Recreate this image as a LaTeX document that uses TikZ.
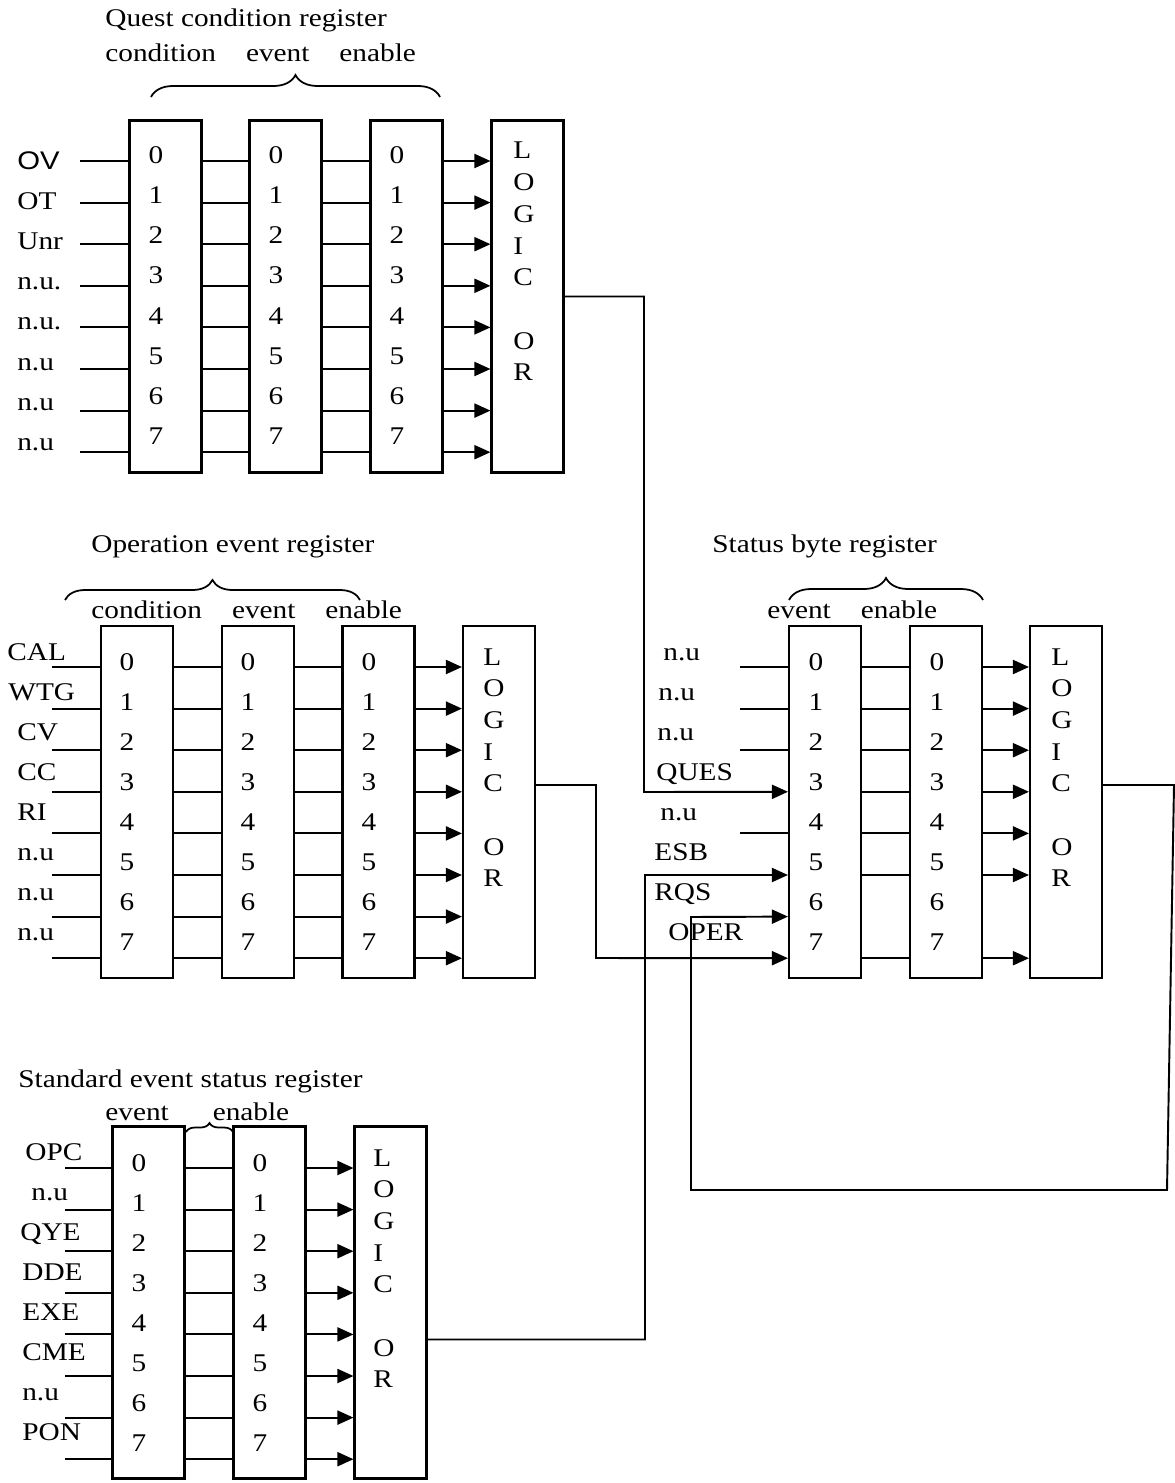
\documentclass[tikz,border=0pt]{standalone}
\usepackage{fontspec}
\setmainfont{Liberation Serif}[FakeStretch=1.15]
\setsansfont{Liberation Sans}[FakeStretch=1.15]
\usetikzlibrary{arrows.meta,decorations.pathreplacing}
\begin{document}
\begin{tikzpicture}[x=0.02cm, y=-0.02cm, font=\fontsize{14.5}{17}\selectfont,
	reg/.style={draw, line width=1.2pt, minimum width=1.44cm, minimum height=7.04cm, inner sep=0pt},
	wire/.style={line width=1.1pt},
	arr/.style={line width=1.1pt, -{Triangle[length=0.32cm, width=0.28cm]}},
	txt/.style={anchor=base west, inner sep=0pt},
	dig/.style={anchor=base, inner sep=0pt},
	brc/.style={decorate, decoration={brace, amplitude=#1}, line width=1pt}]

		\useasboundingbox (0,0) rectangle (1175,1483);

		% Quest condition register
		\node[txt] (qtitle) at (105,27) {Quest condition register};
		\node[txt] (qsub) at (105,62) {condition\hspace{0.6cm}event\hspace{0.6cm}enable};
		\draw[brc=0.44cm] (151,97) -- (440,97);
		\node[reg] (q1) at (165.5,296.5) {};
		\node[reg] (q2) at (285.5,296.5) {};
		\node[reg] (q3) at (406.5,296.5) {};
		\node[reg] (qor) at (527.5,296.5) {};
		\foreach \t [count=\i from 0] in {{\sffamily OV},OT,Unr,n.u.,n.u.,n.u,n.u,n.u} {
			\coordinate (qr\i) at (80,{161+41.6*\i});
			\node[txt] (ql\i) at (17,{170+40*\i}) {\t};
			\draw[wire] (qr\i) -- (qr\i -| q1.west);
			\draw[wire] (qr\i -| q1.east) -- (qr\i -| q2.west);
			\draw[wire] (qr\i -| q2.east) -- (qr\i -| q3.west);
			\draw[arr] (qr\i -| q3.east) -- (qr\i -| qor.west);
			\node[dig] (q1d\i) at (156,{164+40*\i}) {\i};
			\node[dig] (q2d\i) at (276,{164+40*\i}) {\i};
			\node[dig] (q3d\i) at (397,{164+40*\i}) {\i};
		}
		\foreach \c/\k in {L/0,O/1,G/2,I/3,C/4,O/6,R/7}
			\node[txt] (qorl\k) at (513,{159+31.7*\k}) {\c};

		% Operation event register
		\node[txt] (otitle) at (91,552) {Operation event register};
		\draw[brc=0.4cm] (65,600) -- (360,600);
		\node[txt] (osub) at (91,618) {condition\hspace{0.6cm}event\hspace{0.6cm}enable};
		\node[reg] (o1) at (137,802) {};
		\node[reg] (o2) at (258,802) {};
		\node[reg] (o3) at (378.5,802) {};
		\node[reg] (oor) at (499,802) {};
		\foreach \t/\x [count=\i from 0] in {CAL/7,WTG/8,CV/17,CC/17,RI/17,n.u/17,n.u/17,n.u/17} {
			\coordinate (or\i) at (52,{667+41.6*\i});
			\node[txt] (ol\i) at (\x,{660+40*\i}) {\t};
			\draw[wire] (or\i) -- (or\i -| o1.west);
			\draw[wire] (or\i -| o1.east) -- (or\i -| o2.west);
			\draw[wire] (or\i -| o2.east) -- (or\i -| o3.west);
			\draw[arr] (or\i -| o3.east) -- (or\i -| oor.west);
			\node[dig] (o1d\i) at (127,{670+40*\i}) {\i};
			\node[dig] (o2d\i) at (248,{670+40*\i}) {\i};
			\node[dig] (o3d\i) at (369,{670+40*\i}) {\i};
		}
		\foreach \c/\k in {L/0,O/1,G/2,I/3,C/4,O/6,R/7}
			\node[txt] (oorl\k) at (483,{665+31.7*\k}) {\c};

		% Status byte register
		\node[txt] (stitle) at (712,552) {Status byte register};
		\draw[brc=0.44cm] (789,600) -- (983,600);
		\node[txt] (ssub) at (767,618) {event\hspace{0.6cm}enable};
		\node[reg] (s1) at (825,802) {};
		\node[reg] (s2) at (946,802) {};
		\node[reg] (sor) at (1066,802) {};
		\foreach \t/\x [count=\i from 0] in {n.u/663,n.u/658,n.u/657,QUES/656,n.u/660,ESB/654,RQS/654,OPER/668} {
			\coordinate (sr\i) at (740,{667+41.6*\i});
			\node[txt] (sl\i) at (\x,{660+40*\i}) {\t};
			\node[dig] (s1d\i) at (816,{670+40*\i}) {\i};
			\node[dig] (s2d\i) at (937,{670+40*\i}) {\i};
		}
		\foreach \i in {0,1,2,4}
			\draw[wire] (sr\i) -- (sr\i -| s1.west);
		\foreach \i in {0,1,2,3,4,5,7} {
			\draw[wire] (sr\i -| s1.east) -- (sr\i -| s2.west);
			\draw[arr] (sr\i -| s2.east) -- (sr\i -| sor.west);
		}
		\foreach \c/\k in {L/0,O/1,G/2,I/3,C/4,O/6,R/7}
			\node[txt] (sorl\k) at (1051,{665+31.7*\k}) {\c};

		% Standard event status register
		\node[txt] (etitle) at (18,1087) {Standard event status register};
		\node[txt] (esub) at (105,1120) {event\hspace{0.88cm}enable};
		\draw[brc=0.18cm] (186,1132) -- (233,1132);
		\node[reg] (e1) at (148.5,1302.5) {};
		\node[reg] (e2) at (269.5,1302.5) {};
		\node[reg] (eor) at (390.5,1302.5) {};
		\foreach \t/\x [count=\i from 0] in {OPC/25,n.u/31,QYE/20,DDE/22,EXE/22,CME/22,n.u/22,PON/22} {
			\coordinate (er\i) at (65,{1168+41.6*\i});
			\node[txt] (el\i) at (\x,{1160+40*\i}) {\t};
			\draw[wire] (er\i) -- (er\i -| e1.west);
			\draw[wire] (er\i -| e1.east) -- (er\i -| e2.west);
			\draw[arr] (er\i -| e2.east) -- (er\i -| eor.west);
			\node[dig] (e1d\i) at (139,{1171+40*\i}) {\i};
			\node[dig] (e2d\i) at (260,{1171+40*\i}) {\i};
		}
		\foreach \c/\k in {L/0,O/1,G/2,I/3,C/4,O/6,R/7}
			\node[txt] (eorl\k) at (373,{1166+31.7*\k}) {\c};

		% summary lines into the status byte
		\draw[arr] (qor.east) -| (644,792) -- (sr3 -| s1.west);
		\draw[arr] ([yshift=0.34cm]oor.east) -| (596,958) -- (sr7 -| s1.west);
		\draw[arr] ([yshift=-0.74cm]eor.east) -| (645,875) -- (sr5 -| s1.west);
		\draw[arr] ([yshift=0.34cm]sor.east) -- (1174,785) -- (1167,1190) -- (691,1190) -- (691,917) -- (sr6 -| s1.west);

	\end{tikzpicture}
\end{document}
